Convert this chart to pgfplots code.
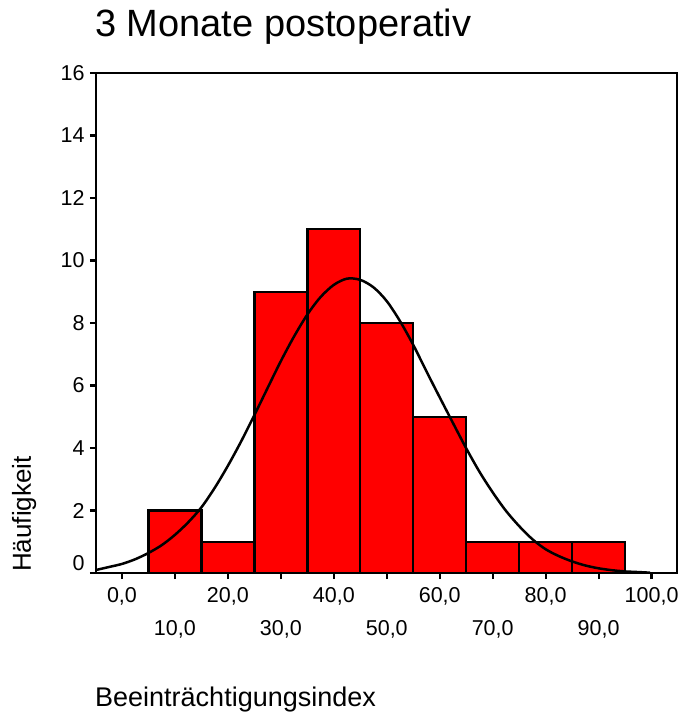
\documentclass[border=0pt]{standalone}
\usepackage{fontspec}
\setmainfont{Liberation Sans}
\usepackage{pgfplots}
\pgfplotsset{compat=1.18}
\begin{document}
\begin{tikzpicture}
\path[use as bounding box] (-96bp,-145bp) rectangle (584bp,573bp);
\begin{axis}[
  at={(0,0)}, anchor=south west,
  scale only axis, width=581bp, height=500bp,
  xmin=-4.9, xmax=104.8, ymin=0, ymax=16,
  axis line style={line width=2.6bp},
  tick style={line width=2.2bp, black},
  tick align=outside, major tick length=6bp,
  tick pos=left,
  xtick={0,20,40,60,80,100},
  xticklabels={{0,0},{20,0},{40,0},{60,0},{80,0},{100,0}},
  xticklabel style={yshift=-5bp},
  extra x ticks={10,30,50,70,90},
  extra x tick labels={{10,0},{30,0},{50,0},{70,0},{90,0}},
  extra x tick style={xticklabel style={yshift=-33bp}},
  ytick={2,4,6,8,10,12,14,16},
  yticklabels={2,4,6,8,10,12,14,16},
  yticklabel style={xshift=-2bp},
  extra y ticks={0}, extra y tick labels={0},
  extra y tick style={yticklabel style={yshift=9.5bp}},
  ticklabel style={font=\fontsize{21.5bp}{25bp}\selectfont},
]
\addplot[ybar interval, fill=red, draw=black, line width=2.4bp]
  coordinates {(5,2) (15,1) (25,9) (35,11) (45,8) (55,5) (65,1) (75,1) (85,1) (95,1)};
\addplot[black, line width=2.5bp, smooth] coordinates {
(-4.8,0.10) (-2.5,0.19) (0,0.29) (2.5,0.44) (5,0.64) (7.5,0.89) (10,1.22)
(12.5,1.62) (15,2.10) (17.5,2.72) (20,3.43) (22.5,4.21) (25,5.05) (27.5,5.92)
(30,6.78) (32.5,7.57) (35,8.27) (37.5,8.83) (40,9.22) (42.5,9.42) (45,9.38)
(47.5,9.14) (50,8.70) (52.5,8.06) (55,7.30) (57.5,6.45) (60,5.62) (62.5,4.80)
(65,3.99) (67.5,3.24) (70,2.58) (72.5,1.99) (75,1.50) (77.5,1.08) (80,0.76)
(82.5,0.54) (85,0.37) (87.5,0.24) (90,0.15) (92.5,0.09) (95,0.05) (97.5,0.03) (99.7,0.01)};
\end{axis}
\node[anchor=base west, inner sep=0pt, font=\fontsize{38bp}{44bp}\selectfont] at (-1bp,536bp) {3 Monate postoperativ};
\node[anchor=base west, inner sep=0pt, font=\fontsize{27bp}{31bp}\selectfont] at (-1bp,-133.7bp) {Beeinträchtigungsindex};
\node[anchor=base west, inner sep=0pt, rotate=90, font=\fontsize{26bp}{30bp}\selectfont] at (-65bp,1bp) {Häufigkeit};
\end{tikzpicture}
\end{document}
